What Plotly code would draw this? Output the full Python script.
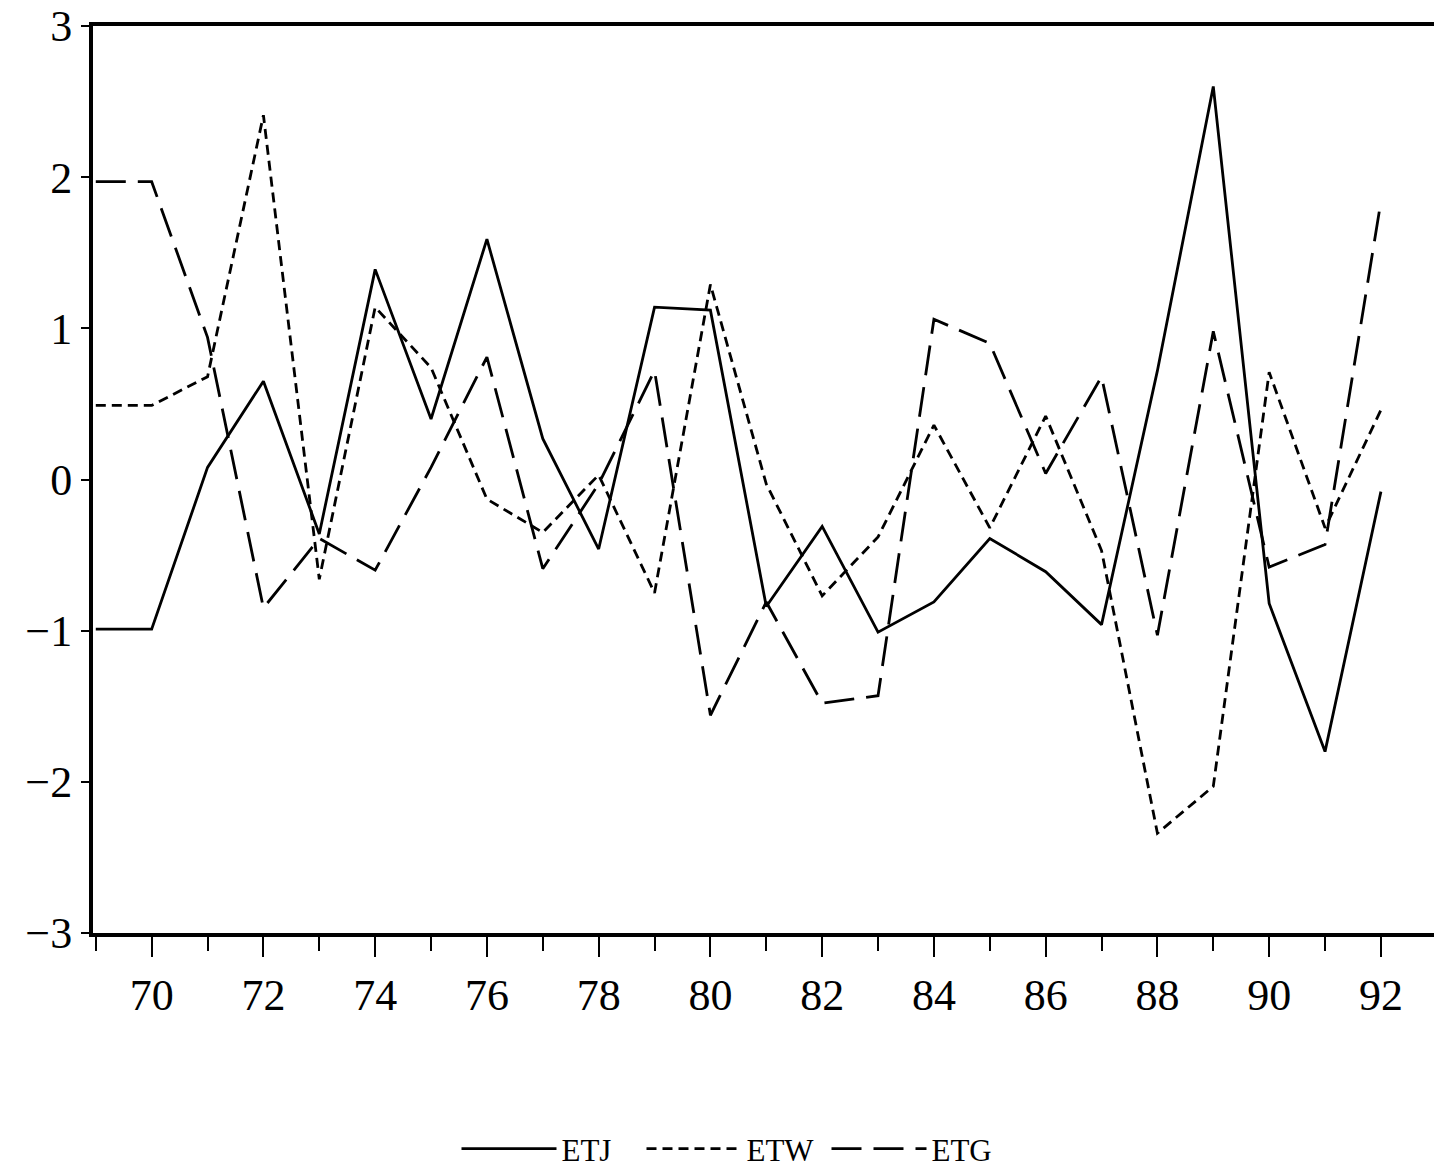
import plotly.graph_objects as go

years = list(range(69, 93))
etj = [-0.99, -0.99, 0.08, 0.65, -0.36, 1.39, 0.40, 1.59, 0.27, -0.46, 1.14, 1.12, -0.84, -0.31, -1.01,
       -0.81, -0.39, -0.61, -0.96, 0.72, 2.60, -0.82, -1.80, -0.08]
etw = [0.49, 0.49, 0.68, 2.41, -0.66, 1.14, 0.74, -0.13, -0.35, 0.03, -0.75, 1.29, -0.03, -0.77, -0.38,
       0.36, -0.32, 0.42, -0.47, -2.34, -2.03, 0.71, -0.32, 0.46]
etg = [1.97, 1.97, 0.94, -0.85, -0.39, -0.60, 0.08, 0.81, -0.59, -0.03, 0.72, -1.56, -0.81, -1.48, -1.43,
       1.06, 0.90, 0.04, 0.68, -1.03, 0.98, -0.58, -0.43, 1.84]
x_tick_vals = list(range(70, 93, 2))
x_tick_text = [str(v) for v in x_tick_vals]
y_tick_vals = [-3, -2, -1, 0, 1, 2, 3]

fig = go.Figure()
fig.add_trace(go.Scatter(x=years, y=etj, mode="lines", name="ETJ",
                         line=dict(color="black", width=2.8, dash="solid")))
fig.add_trace(go.Scatter(x=years, y=etw, mode="lines", name="ETW",
                         line=dict(color="black", width=2.8, dash="10px,6px")))
fig.add_trace(go.Scatter(x=years, y=etg, mode="lines", name="ETG",
                         line=dict(color="black", width=2.8, dash="30px,12px")))

tick_font = dict(family="Liberation Serif, DejaVu Serif, serif", size=44, color="black")

fig.update_layout(
    width=1434, height=1176,
    margin=dict(l=93, r=0, t=26, b=236),
    paper_bgcolor="white", plot_bgcolor="white",
    font=dict(family="Liberation Serif, DejaVu Serif, serif", size=30, color="black"),
    showlegend=True,
    legend=dict(orientation="h", x=0.478, xanchor="center", y=-0.2385, yanchor="middle",
                font=dict(family="Liberation Serif, DejaVu Serif, serif", size=31, color="black"),
                itemwidth=95, entrywidth=75, tracegroupgap=0, bgcolor="rgba(0,0,0,0)"),
    xaxis=dict(range=[68.95, 92.95], tickmode="array", tickvals=x_tick_vals, ticktext=x_tick_text,
               ticks="outside", ticklen=20, tickwidth=2, tickcolor="black",
               minor=dict(dtick=1, tick0=69, ticks="outside", ticklen=14, tickwidth=2, tickcolor="black"),
               showline=True, linewidth=4, linecolor="black", mirror=True,
               showgrid=False, zeroline=False, tickfont=tick_font, ticklabeloverflow="allow"),
    yaxis=dict(range=[-3, 3], tickmode="array", tickvals=y_tick_vals,
               ticks="outside", ticklen=8, tickwidth=2, tickcolor="black",
               showline=True, linewidth=4, linecolor="black",
               showgrid=False, zeroline=False, tickfont=tick_font, ticklabeloverflow="allow"),
)

fig.write_html("out.html", config={"displayModeBar": False},
               post_script="document.body.style.margin='0';document.body.style.overflow='hidden';")
